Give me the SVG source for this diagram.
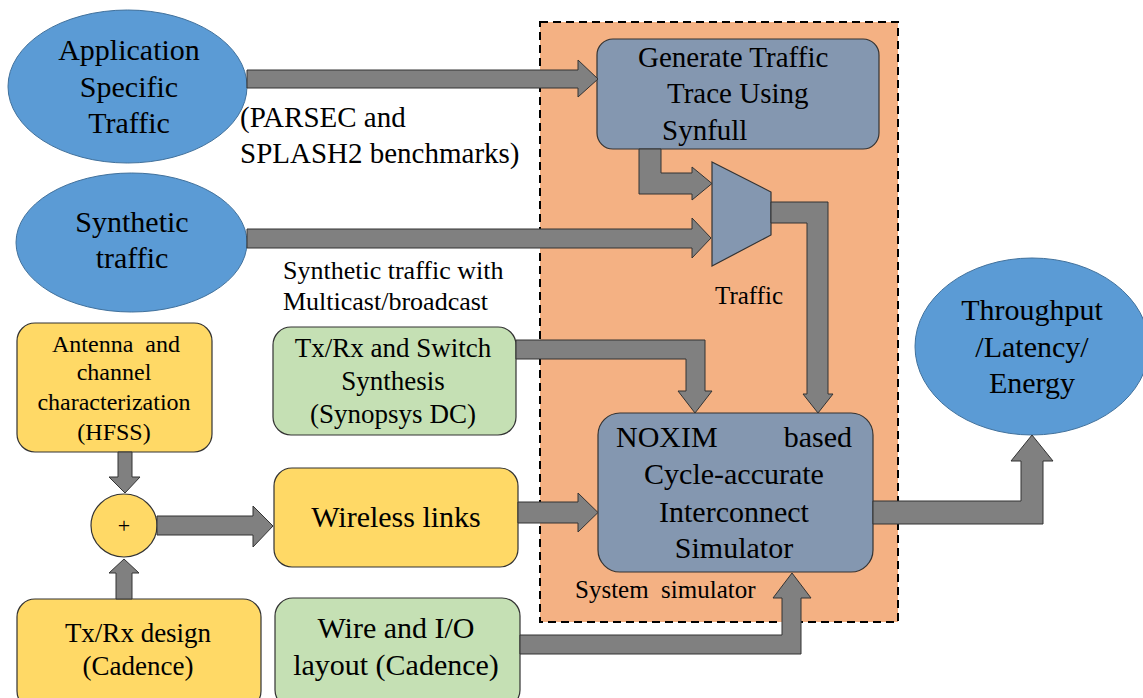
<svg xmlns="http://www.w3.org/2000/svg" width="1143" height="698" viewBox="0 0 1143 698" font-family="Liberation Serif, serif">
<style>
.c{text-anchor:middle}
.t{font-family:'Liberation Serif',serif;fill:#000}
.ell{fill:#5B9BD5;stroke:#41719C;stroke-width:1}
.slate{fill:#8497B0;stroke:#333;stroke-width:1.2}
.yel{fill:#FFD966;stroke:#333;stroke-width:1.2}
.grn{fill:#C5E0B4;stroke:#333;stroke-width:1.2}
.arr{fill:#808080;stroke:#333;stroke-width:1}
</style>
<rect x="0" y="0" width="1143" height="698" fill="#fff"/>
<g id="system-simulator">
<rect x="540" y="22" width="358" height="600" fill="#F4B183" stroke="#000" stroke-width="2" stroke-dasharray="8,5"/>
<text class="t" x="575" y="598" font-size="25">System&#160; simulator</text>
</g>
<g id="app-traffic">
<ellipse class="ell" cx="127.5" cy="86.5" rx="119.5" ry="76.5"/>
<text class="t c" x="129" y="60" font-size="30">Application</text>
<text class="t c" x="129" y="97" font-size="30">Specific</text>
<text class="t c" x="129" y="133" font-size="30">Traffic</text>
</g>
<g id="synthetic-traffic">
<ellipse class="ell" cx="131.5" cy="242.5" rx="115.5" ry="69.5"/>
<text class="t c" x="132" y="232" font-size="30">Synthetic</text>
<text class="t c" x="132" y="268" font-size="30">traffic</text>
</g>
<g id="labels">
<text class="t" x="240" y="127" font-size="29">(PARSEC and</text>
<text class="t" x="240" y="163" font-size="29">SPLASH2 benchmarks)</text>
<text class="t" x="283" y="279" font-size="26">Synthetic traffic with</text>
<text class="t" x="283" y="310" font-size="26">Multicast/broadcast</text>
<text class="t" x="715" y="304" font-size="25">Traffic</text>
</g>
<g id="generate-traffic">
<rect class="slate" x="597" y="39" width="282" height="110" rx="16"/>
<text class="t" x="638" y="67" font-size="29">Generate Traffic</text>
<text class="t" x="667" y="103" font-size="29">Trace Using</text>
<text class="t" x="662" y="140" font-size="29">Synfull</text>
</g>
<g id="mux">
<polygon class="slate" points="712,162 771,192 771,235 712,266"/>
</g>
<g id="noxim">
<rect class="slate" x="598" y="413" width="275" height="159" rx="22"/>
<text class="t" x="616" y="447" font-size="30">NOXIM</text>
<text class="t" x="852" y="447" font-size="30" text-anchor="end">based</text>
<text class="t c" x="734" y="484" font-size="30">Cycle-accurate</text>
<text class="t c" x="734" y="522" font-size="30">Interconnect</text>
<text class="t c" x="734" y="558" font-size="30">Simulator</text>
</g>
<g id="throughput">
<ellipse class="ell" cx="1032" cy="346.5" rx="117" ry="88.5"/>
<text class="t c" x="1032" y="320" font-size="30">Throughput</text>
<text class="t c" x="1032" y="357" font-size="30">/Latency/</text>
<text class="t c" x="1032" y="393" font-size="30">Energy</text>
</g>
<g id="antenna">
<rect class="yel" x="17" y="323" width="195" height="129" rx="18"/>
<text class="t" x="52" y="352" font-size="24">Antenna&#160; and</text>
<text class="t c" x="114" y="380" font-size="24">channel</text>
<text class="t c" x="114" y="410" font-size="24">characterization</text>
<text class="t c" x="114" y="440" font-size="24">(HFSS)</text>
</g>
<g id="plus">
<ellipse class="yel" cx="124" cy="525.5" rx="33" ry="31.5"/>
<text class="t c" x="124" y="533" font-size="22">+</text>
</g>
<g id="txrx-design">
<rect class="yel" x="17" y="599" width="244" height="110" rx="18"/>
<text class="t c" x="138" y="642" font-size="27">Tx/Rx design</text>
<text class="t c" x="138" y="675" font-size="27">(Cadence)</text>
</g>
<g id="txrx-switch">
<rect class="grn" x="273" y="327" width="243" height="108" rx="18"/>
<text class="t c" x="393" y="357" font-size="27">Tx/Rx and Switch</text>
<text class="t c" x="393" y="390" font-size="27">Synthesis</text>
<text class="t c" x="393" y="423" font-size="27">(Synopsys DC)</text>
</g>
<g id="wireless">
<rect class="yel" x="274" y="468" width="244" height="99" rx="18"/>
<text class="t c" x="396" y="527" font-size="30">Wireless links</text>
</g>
<g id="wire-io">
<rect class="grn" x="275" y="598" width="245" height="110" rx="18"/>
<text class="t c" x="396" y="638" font-size="30">Wire and I/O</text>
<text class="t c" x="396" y="675" font-size="30">layout (Cadence)</text>
</g>
<g id="connectors">
<polygon class="arr" points="247,70 578,70 578,60 598,79 578,97 578,88 247,88"/>
<polygon class="arr" points="247,229 692,229 692,218 711,238 692,258 692,248 247,248"/>
<polygon class="arr" points="639,149 661,149 661,173 692,173 692,167 712,183.5 692,200 692,194 639,194"/>
<polygon class="arr" points="771,202 828,202 828,394 833,394 818,413 803,394 807,394 807,223 771,223"/>
<polygon class="arr" points="516,340 705,340 705,391 712,391 695,413 678,391 686,391 686,359 516,359"/>
<polygon class="arr" points="518,502 578,502 578,493 598,512.5 578,532 578,523 518,523"/>
<polygon class="arr" points="873,501 1021,501 1021,461 1011,461 1032,435 1053,461 1043,461 1043,524 873,524"/>
<polygon class="arr" points="520,635 782,635 782,598 773,598 792,573 811,598 801,598 801,654 520,654"/>
<polygon class="arr" points="118,452 132,452 132,477 140,477 125,493 109,477 118,477"/>
<polygon class="arr" points="116,599 116,573 109,573 124,559 139,573 132,573 132,599"/>
<polygon class="arr" points="157,516 253,516 253,506 273,526 253,547 253,535 157,535"/>
</g>
</svg>
